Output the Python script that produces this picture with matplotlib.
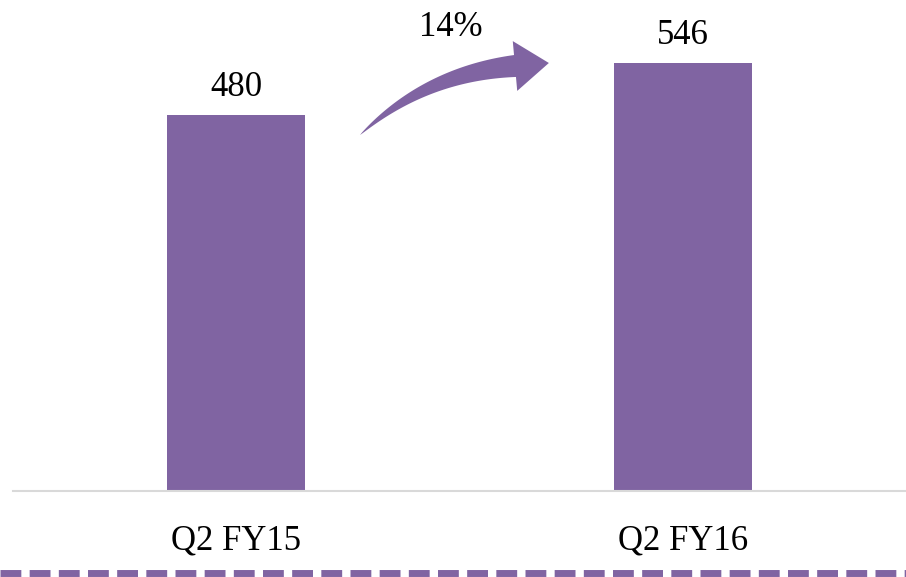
import numpy as np
import matplotlib.pyplot as plt
from matplotlib.patches import Polygon
from matplotlib.lines import Line2D
from matplotlib.transforms import IdentityTransform

categories = ['Q2 FY15', 'Q2 FY16']
values = [480, 546]
growth_label = '14%'

purple = '#8064A2'
plt.rcParams['font.family'] = ['Liberation Serif', 'DejaVu Serif']

fig = plt.figure(figsize=(9.06, 5.77), dpi=100)
ax = fig.add_axes([13 / 906, 86 / 577, 893 / 906, 471 / 577])

x = range(len(categories))
bars = ax.bar(x, values, width=0.31, color=purple, zorder=2)

ax.set_xlim(-0.5, 1.5)
ax.set_ylim(0, 601)

for spine in ['top', 'right', 'left']:
    ax.spines[spine].set_visible(False)
ax.spines['bottom'].set_color('#d9d9d9')
ax.spines['bottom'].set_linewidth(1.5)
ax.set_yticks([])
ax.set_xticks(list(x))
ax.set_xticklabels(categories, fontsize=25)
ax.tick_params(axis='x', length=0, pad=24)

# value labels on top of each bar
for b, v in zip(bars, values):
    ax.text(b.get_x() + b.get_width() / 2, v + 14, str(v),
            ha='center', va='bottom', fontsize=25)


def curved_arrow(p0, p1, p2, shaft_w, head_w, head_len, n=60):
    # tapered shaft along a quadratic bezier, then a triangular head (pixels)
    t = np.linspace(0, 1, n)[:, None]
    p0, p1, p2 = map(np.asarray, (p0, p1, p2))
    pts = (1 - t) ** 2 * p0 + 2 * (1 - t) * t * p1 + t ** 2 * p2
    d = 2 * (1 - t) * (p1 - p0) + 2 * t * (p2 - p1)
    d = d / np.linalg.norm(d, axis=1, keepdims=True)
    nrm = np.column_stack([-d[:, 1], d[:, 0]])
    w = shaft_w * t ** 0.8 / 2
    upper = pts + nrm * w
    lower = pts - nrm * w
    dn, nn = d[-1], nrm[-1]
    head = [p2 + nn * head_w / 2, p2 + dn * head_len, p2 - nn * head_w / 2]
    return np.vstack([upper, head, lower[::-1]])


# curved growth arrow between the bars
verts = curved_arrow((360, 442), (425, 503), (515, 511), 22, 50, 34)
fig.add_artist(Polygon(verts, closed=True, color=purple, lw=0,
                       transform=IdentityTransform()))
ax.text(0.48, 592, growth_label, ha='center', va='center', fontsize=25)

# dashed rule along the bottom edge
fig.add_artist(Line2D([0, 1], [4 / 577, 4 / 577], color=purple, lw=5,
                      linestyle=(0, (3, 1.2)), transform=fig.transFigure))

fig.savefig('out.png', dpi=100)
